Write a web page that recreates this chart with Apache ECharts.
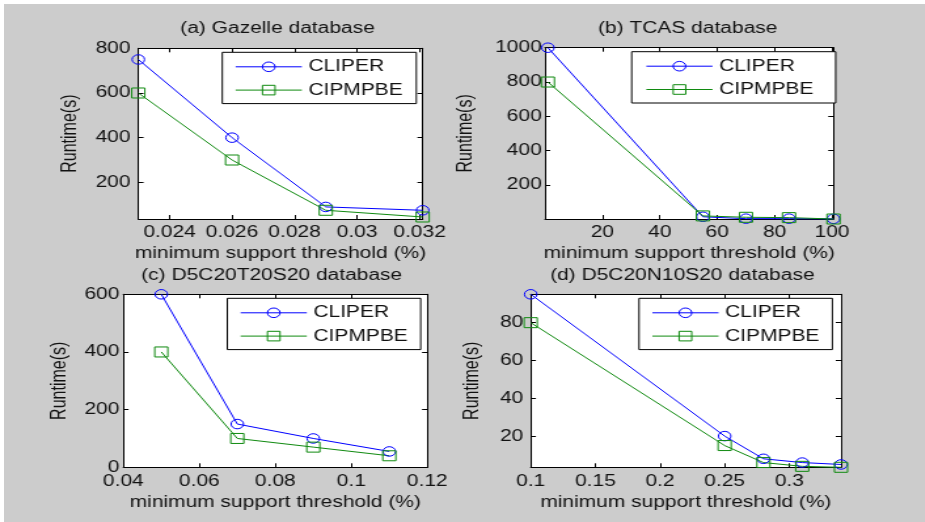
<!DOCTYPE html>
<html>
<head>
<meta charset="utf-8">
<title>Runtime vs. minimum support threshold</title>
<script src="https://cdn.jsdelivr.net/npm/echarts@6/dist/echarts.min.js"></script>
<style>
  html, body { margin: 0; padding: 0; background: #ffffff; overflow: hidden; }
  #panel { position: absolute; left: 4px; top: 4px; right: 0; bottom: 0; background: #cccccc; }
  #chart { position: absolute; left: 0; top: 0; height: 522px; transform-origin: 0 0; }
</style>
</head>
<body>
<div id="panel"></div>
<div id="chart"></div>
<script>
// ---- data -------------------------------------------------------------
const seriesNames = ['CLIPER', 'CIPMPBE'];
const panelTitles = ['(a) Gazelle database', '(b) TCAS database',
                     '(c) D5C20T20S20 database', '(d) D5C20N10S20 database'];
const xAxisTitle = 'minimum support threshold (%)';
const yAxisTitle = 'Runtime(s)';

// (a) Gazelle
const gazelleThreshold = [0.023, 0.026, 0.029, 0.0321];
const gazelleCliper    = [750, 400, 90, 75];
const gazelleCipmpbe   = [600, 300, 75, 45];
const gazelleXTicks    = [0.024, 0.026, 0.028, 0.03, 0.032];
const gazelleYTicks    = [200, 400, 600, 800];

// (b) TCAS
const tcasThreshold = [1, 55, 70, 85, 100.5];
const tcasCliper    = [1000, 15, 4, 4, 3];
const tcasCipmpbe   = [800, 20, 12, 10, 2];
const tcasXTicks    = [20, 40, 60, 80, 100];
const tcasYTicks    = [200, 400, 600, 800, 1000];

// (c) D5C20T20S20
const t20Threshold = [0.05, 0.07, 0.09, 0.11];
const t20Cliper    = [600, 150, 100, 55];
const t20Cipmpbe   = [400, 100, 70, 40];
const t20XTicks    = [0.04, 0.06, 0.08, 0.1, 0.12];
const t20YTicks    = [0, 200, 400, 600];

// (d) D5C20N10S20
const n10Threshold = [0.1, 0.25, 0.28, 0.31, 0.34];
const n10Cliper    = [95, 20, 8, 6, 5];
const n10Cipmpbe   = [80, 15, 6, 4, 3.5];
const n10XTicks    = [0.1, 0.15, 0.2, 0.25, 0.3];
const n10YTicks    = [20, 40, 60, 80];

// ---- layout (page pixels); the canvas is drawn narrow and widened by SX --
const SX = 1.31;
const PAGE_W = 925, PAGE_H = 522;
const FONT = "'Liberation Sans', Arial, Helvetica, sans-serif";
const TEXT = '#111111';
const BLUE = '#0000ff';
const GREEN = '#108a10';

const panels = [
  { x: gazelleThreshold, a: gazelleCliper, b: gazelleCipmpbe, xt: gazelleXTicks, yt: gazelleYTicks,
    xr: [0.023, 0.0321], yr: [36, 800],
    plot: [138.3, 48.3, 422.7, 219], title: [277.5, 30],
    legend: [222.3, 52.3], padL: 9.7, padR: 10.4, yGap: 44, yMargin: 6 },
  { x: tcasThreshold, a: tcasCliper, b: tcasCipmpbe, xt: tcasXTicks, yt: tcasYTicks,
    xr: [0, 100.5], yr: [2, 1000],
    plot: [545, 47.7, 833.5, 219], title: [687.7, 30],
    legend: [631.7, 51.7], padL: 10.7, padR: 17, yGap: 52.7, yMargin: 2.5 },
  { x: t20Threshold, a: t20Cliper, b: t20Cipmpbe, xt: t20XTicks, yt: t20YTicks,
    xr: [0.04, 0.12], yr: [0, 600],
    plot: [123.3, 294.3, 427.3, 467.3], title: [271.7, 276.7],
    legend: [227.3, 298.3], padL: 9.7, padR: 9.9, yGap: 40.7, yMargin: 3 },
  { x: n10Threshold, a: n10Cliper, b: n10Cipmpbe, xt: n10XTicks, yt: n10YTicks,
    xr: [0.1, 0.34], yr: [3.5, 95],
    plot: [530.7, 294.3, 841, 467.3], title: [682.3, 276.7],
    legend: [639, 298.3], padL: 9.7, padR: 9.9, yGap: 36.2, yMargin: 5.6 }
];

const W = PAGE_W / SX;
const chartDom = document.getElementById('chart');
chartDom.style.width = W + 'px';
chartDom.style.transform = 'scaleX(' + SX + ')';

const label16 = { fontSize: 16, fontFamily: FONT, color: TEXT };
const blackLine = { color: '#000000', width: 1 };
const plainNumber = (v) => String(+v.toPrecision(6));

const option = {
  animation: false,
  backgroundColor: 'transparent',
  title: [], grid: [], xAxis: [], yAxis: [], legend: [], series: []
};

panels.forEach((p, i) => {
  const [x0, y0, x1, y1] = p.plot;
  option.grid.push({
    left: x0 / SX, top: y0, width: (x1 - x0) / SX, height: y1 - y0,
    show: true, backgroundColor: '#ffffff', borderWidth: 0,
    containLabel: false, outerBoundsMode: 'none'
  });

  option.title.push({
    text: panelTitles[i], left: p.title[0] / SX, top: p.title[1] - 9,
    textAlign: 'center', padding: 0,
    textStyle: Object.assign({ fontWeight: 'normal' }, label16)
  });

  const tickX = { show: true, inside: true, length: 4, customValues: p.xt, lineStyle: blackLine };
  const tickY = { show: true, inside: true, length: 4, customValues: p.yt, lineStyle: blackLine };

  // bottom x axis (labelled) and its mirror on top
  option.xAxis.push({
    type: 'value', gridIndex: i, position: 'bottom', min: p.xr[0], max: p.xr[1],
    axisLine: { show: true, onZero: false, lineStyle: blackLine },
    axisTick: tickX, splitLine: { show: false },
    axisLabel: Object.assign({ show: true, margin: 6, customValues: p.xt, formatter: plainNumber,
      showMinLabel: true, showMaxLabel: true, hideOverlap: false }, label16),
    name: xAxisTitle, nameLocation: 'middle', nameGap: 27, nameTextStyle: label16
  });
  option.xAxis.push({
    type: 'value', gridIndex: i, position: 'top', min: p.xr[0], max: p.xr[1],
    axisLine: { show: true, onZero: false, lineStyle: blackLine },
    axisTick: tickX, splitLine: { show: false }, axisLabel: { show: false }
  });

  // left y axis (labelled) and its mirror on the right
  option.yAxis.push({
    type: 'value', gridIndex: i, position: 'left', min: p.yr[0], max: p.yr[1],
    axisLine: { show: true, onZero: false, lineStyle: blackLine },
    axisTick: tickY, splitLine: { show: false },
    axisLabel: Object.assign({ show: true, margin: p.yMargin, customValues: p.yt, formatter: plainNumber,
      showMinLabel: true, showMaxLabel: true, hideOverlap: false }, label16),
    name: yAxisTitle, nameLocation: 'middle', nameGap: p.yGap, nameTextStyle: label16
  });
  option.yAxis.push({
    type: 'value', gridIndex: i, position: 'right', min: p.yr[0], max: p.yr[1],
    axisLine: { show: true, onZero: false, lineStyle: blackLine },
    axisTick: tickY, splitLine: { show: false }, axisLabel: { show: false }
  });

  option.legend.push({
    orient: 'vertical', left: p.legend[0] / SX, top: p.legend[1],
    padding: [6.5, p.padR, 5.5, p.padL], itemGap: 7.3,
    itemWidth: 50.5, itemHeight: 12,
    backgroundColor: '#ffffff', borderColor: '#000000', borderWidth: 1, borderRadius: 0,
    selectedMode: false,
    textStyle: Object.assign({ lineHeight: 16 }, label16),
    data: [
      { name: seriesNames[0],
        itemStyle: { color: 'rgba(0,0,0,0)', borderColor: BLUE, borderWidth: 1 },
        lineStyle: { color: BLUE, width: 1 } },
      { name: seriesNames[1],
        itemStyle: { color: 'rgba(0,0,0,0)', borderColor: GREEN, borderWidth: 1 },
        lineStyle: { color: GREEN, width: 1 } }
    ]
  });

  const mk = (name, ys, color, symbol, size) => ({
    name, type: 'line', xAxisIndex: 2 * i, yAxisIndex: 2 * i,
    data: p.x.map((v, k) => [v, ys[k]]),
    symbol, symbolSize: size, showSymbol: true, clip: false,
    lineStyle: { color, width: 1 },
    itemStyle: { color: 'rgba(0,0,0,0)', borderColor: color, borderWidth: 1 },
    emphasis: { disabled: true }
  });
  option.series.push(mk(seriesNames[0], p.a, BLUE, 'circle', 9.5));
  option.series.push(mk(seriesNames[1], p.b, GREEN, 'rect', 10));
});

const chart = echarts.init(chartDom, null, { renderer: 'canvas', width: W, height: PAGE_H });
chart.setOption(option);
</script>
</body>
</html>
